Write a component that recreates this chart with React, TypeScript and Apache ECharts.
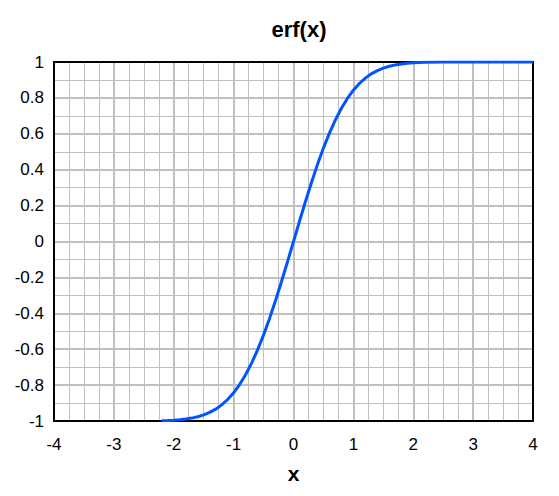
import React, { useEffect, useRef } from "react";
import * as echarts from "echarts";

const xValues = [
  -2.2, -2.1, -2.0, -1.9, -1.8, -1.7, -1.6, -1.5, -1.4, -1.3, -1.2, -1.1, -1.0,
  -0.9, -0.8, -0.7, -0.6, -0.5, -0.4, -0.3, -0.2, -0.1, 0.0,
  0.1, 0.2, 0.3, 0.4, 0.5, 0.6, 0.7, 0.8, 0.9, 1.0,
  1.1, 1.2, 1.3, 1.4, 1.5, 1.6, 1.7, 1.8, 1.9, 2.0, 2.1, 2.2, 2.5, 3.0, 3.5, 4.0,
];
const erfValues = [
  -0.9981, -0.997, -0.9953, -0.9928, -0.9891, -0.9838, -0.9763, -0.9661, -0.9523, -0.934, -0.9103, -0.8802, -0.8427,
  -0.7969, -0.7421, -0.6778, -0.6039, -0.5205, -0.4284, -0.3286, -0.2227, -0.1125, 0.0,
  0.1125, 0.2227, 0.3286, 0.4284, 0.5205, 0.6039, 0.6778, 0.7421, 0.7969, 0.8427,
  0.8802, 0.9103, 0.934, 0.9523, 0.9661, 0.9763, 0.9838, 0.9891, 0.9928, 0.9953, 0.997, 0.9981, 0.9996, 1.0, 1.0, 1.0,
];

const titleText = "erf(x)";
const xAxisName = "x";

export default function App() {
  const ref = useRef<HTMLDivElement>(null);
  useEffect(() => {
    document.body.style.margin = "0";
    const chart = echarts.init(ref.current!, null, { renderer: "svg" });
    const font = "'Liberation Sans', Arial, sans-serif";
    const border = { show: true, onZero: false, lineStyle: { color: "#000", width: 2 } };
    const grid = { color: "#c0c0c0" };
    chart.setOption({
      animation: false,
      backgroundColor: "#ffffff",
      title: {
        text: titleText,
        left: 294,
        textAlign: "center",
        top: 13,
        textStyle: { fontFamily: font, fontSize: 22, fontWeight: "bold", color: "#000" },
      },
      grid: { left: 54, right: 26, top: 62, bottom: 75 },
      xAxis: [
        {
          type: "value",
          min: -4,
          max: 4,
          interval: 1,
          name: xAxisName,
          nameLocation: "middle",
          nameGap: 42,
          nameTextStyle: { fontFamily: font, fontSize: 21, fontWeight: "bold", color: "#000" },
          axisLine: border,
          axisTick: { show: false },
          axisLabel: { fontFamily: font, fontSize: 17, color: "#000", margin: 15 },
          splitLine: { show: true, lineStyle: { color: grid.color, width: 2 } },
          minorTick: { show: false, splitNumber: 4 },
          minorSplitLine: { show: true, lineStyle: { color: grid.color, width: 1 } },
        },
        {
          type: "value",
          position: "top",
          min: -4,
          max: 4,
          interval: 1,
          axisLine: border,
          axisTick: { show: false },
          axisLabel: { show: false },
          splitLine: { show: false },
        },
      ],
      yAxis: [
        {
          type: "value",
          min: -1,
          max: 1,
          interval: 0.2,
          axisLine: border,
          axisTick: { show: false },
          axisLabel: {
            fontFamily: font,
            fontSize: 17,
            color: "#000",
            margin: 10,
            formatter: (v: number) => String(Math.round(v * 10) / 10),
          },
          splitLine: { show: true, lineStyle: { color: grid.color, width: 2 } },
          minorTick: { show: false, splitNumber: 2 },
          minorSplitLine: { show: true, lineStyle: { color: grid.color, width: 1 } },
        },
        {
          type: "value",
          position: "right",
          min: -1,
          max: 1,
          interval: 0.2,
          axisLine: border,
          axisTick: { show: false },
          axisLabel: { show: false },
          splitLine: { show: false },
        },
      ],
      series: [
        {
          type: "line",
          data: xValues.map((x, i) => [x, erfValues[i]]),
          showSymbol: false,
          symbol: "none",
          smooth: false,
          lineStyle: { color: "#0055ff", width: 3 },
          z: 3,
        },
      ],
    });
    return () => chart.dispose();
  }, []);
  return <div ref={ref} style={{ width: 559, height: 496 }} />;
}
